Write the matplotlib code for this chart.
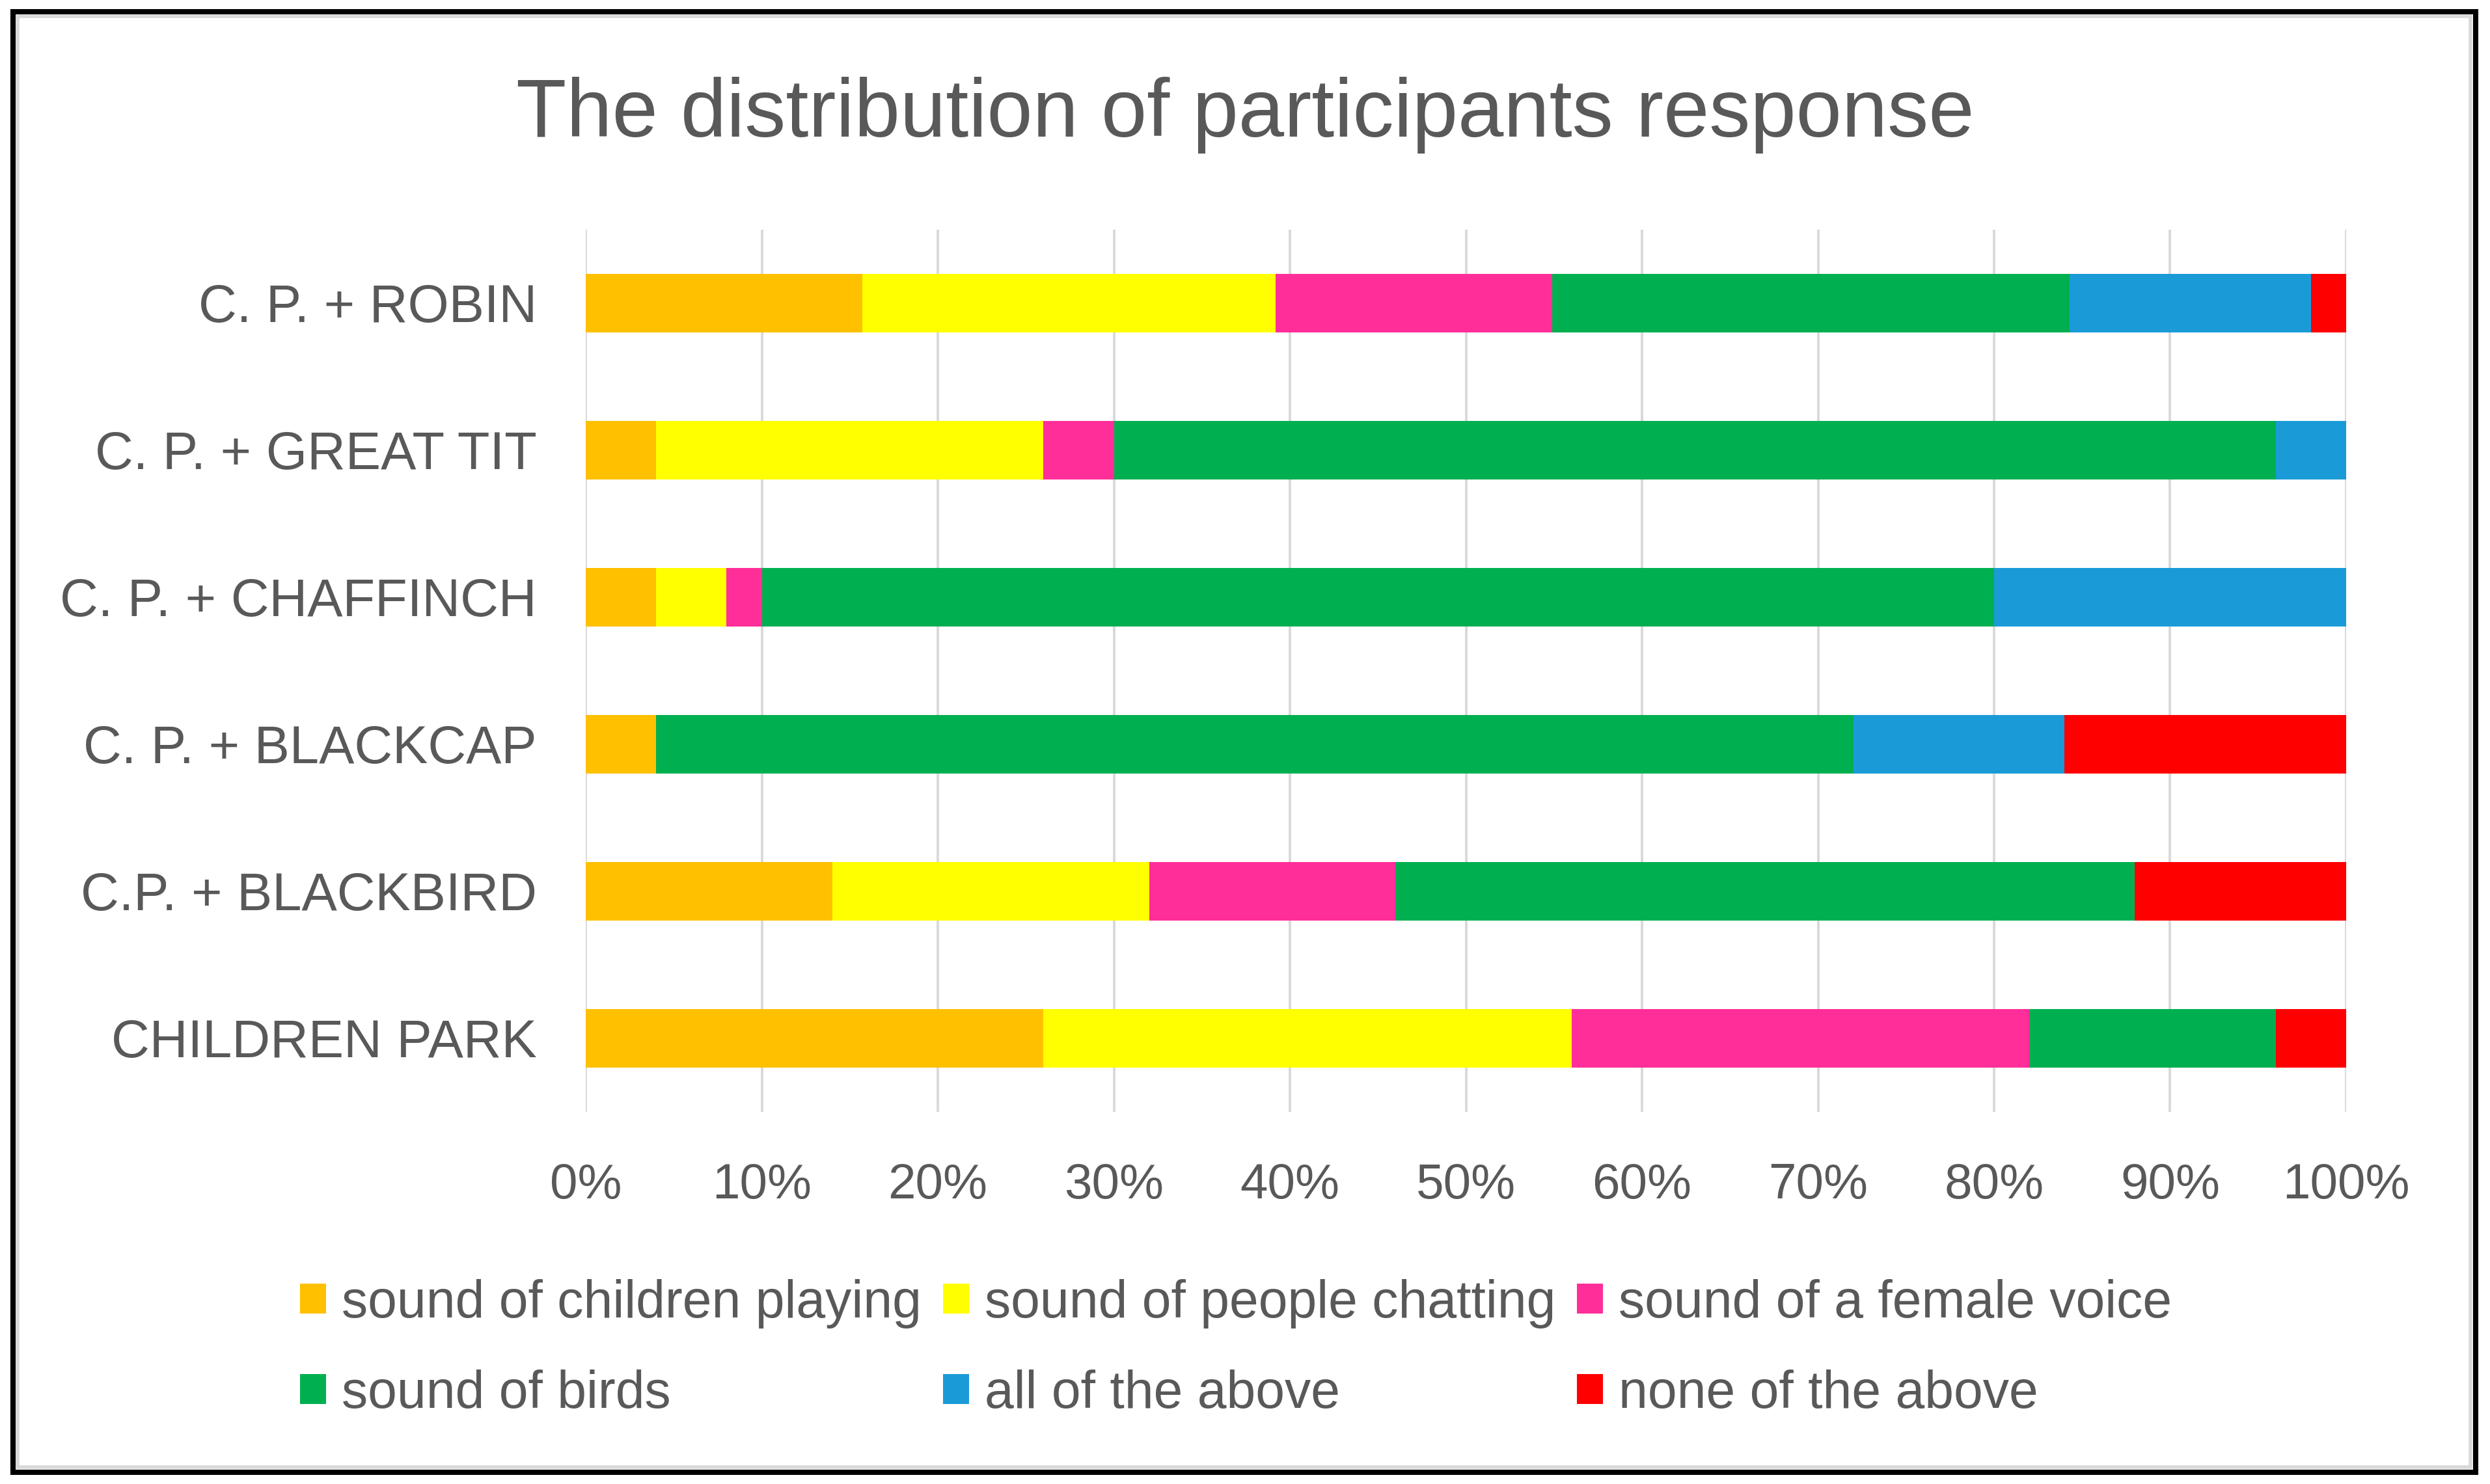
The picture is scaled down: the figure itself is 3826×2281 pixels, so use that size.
import matplotlib
matplotlib.use("Agg")
import matplotlib.pyplot as plt
from matplotlib.patches import Rectangle
import numpy as np

plt.rcParams['font.family'] = ['Liberation Sans', 'DejaVu Sans']

categories = ["CHILDREN PARK", "C.P. + BLACKBIRD", "C. P. + BLACKCAP",
              "C. P. + CHAFFINCH", "C. P. + GREAT TIT", "C. P. + ROBIN"]
series_names = ["sound of children playing", "sound of people chatting",
                "sound of a female voice", "sound of birds",
                "all of the above", "none of the above"]
children_playing = [26, 14, 4, 4, 4, 15.7]
people_chatting = [30, 18, 0, 4, 22, 23.5]
female_voice = [26, 14, 0, 2, 4, 15.7]
birds = [14, 42, 68, 70, 66, 29.4]
all_above = [0, 0, 12, 20, 4, 13.7]
none_above = [4, 12, 16, 0, 0, 2.0]
colors = ["#FFC000", "#FFFF00", "#FF2E99", "#00B050", "#1A9BD7", "#FF0000"]
xtick_values = [0, 10, 20, 30, 40, 50, 60, 70, 80, 90, 100]
xtick_labels = ["0%", "10%", "20%", "30%", "40%", "50%", "60%", "70%", "80%", "90%", "100%"]

series = [children_playing, people_chatting, female_voice, birds, all_above, none_above]

W, H = 3826, 2281
DPI = 200
fig = plt.figure(figsize=(W / DPI, H / DPI), dpi=DPI)
fig.patch.set_facecolor("white")

ax = fig.add_axes([900 / W, 1 - 1709 / H, (3605 - 900) / W, (1709 - 353) / H])

y = np.arange(len(categories))
left = np.zeros(len(categories))
handles = []
for vals, name, col in zip(series, series_names, colors):
    v = np.array(vals, dtype=float)
    b = ax.barh(y, v, left=left, height=0.4, color=col, label=name, zorder=3,
                linewidth=0)
    handles.append(b)
    left += v

ax.set_xlim(0, 100)
ax.set_ylim(-0.5, len(categories) - 0.5)
ax.set_xticks(xtick_values)
ax.set_xticklabels(xtick_labels)
ax.set_yticks(y)
ax.set_yticklabels(categories)
ax.grid(axis="x", color="#d9d9d9", linewidth=1.4, zorder=0)
ax.grid(axis="y", visible=False)
for s in ax.spines.values():
    s.set_visible(False)
ax.tick_params(axis="x", length=0, pad=28, labelsize=27.5, labelcolor="#595959")
ax.tick_params(axis="y", length=0, pad=27, labelsize=29.3, labelcolor="#595959")

fig.text(0.5, 1 - 210 / H, "The distribution of participants response",
         ha="center", va="baseline", fontsize=45.5, color="#595959")

# legend: row-major order like the original -> reorder for column-major filling
order = [0, 3, 1, 4, 2, 5]
leg = fig.legend([handles[i] for i in order], [series_names[i] for i in order],
                 ncol=3, loc="upper left", bbox_to_anchor=(461 / W, 1 - 1966 / H),
                 frameon=False, fontsize=29, borderpad=0, borderaxespad=0,
                 handlelength=0.5, handleheight=0.5, handletextpad=0.3,
                 columnspacing=0.4, labelspacing=0.78, labelcolor="#595959")

# outer border
fig.patches.append(Rectangle((19.5 / W, 1 - 2263 / H), (3804 - 19.5) / W, (2263 - 17.5) / H,
                             transform=fig.transFigure, fill=False, edgecolor="black",
                             linewidth=2.9, zorder=10))
fig.patches.append(Rectangle((27 / W, 1 - 2255 / H), (3796 - 27) / W, (2255 - 25) / H,
                             transform=fig.transFigure, fill=False, edgecolor="#d9d9d9",
                             linewidth=2.0, zorder=10))

fig.savefig("out.png", dpi=DPI, facecolor="white")
